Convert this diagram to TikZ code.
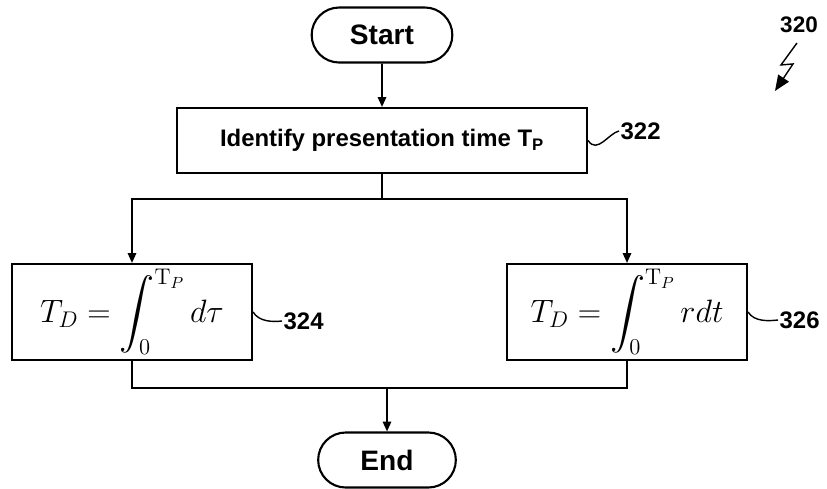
\documentclass[tikz,border=0pt]{standalone}
\usepackage{fix-cm}
\usepackage{amsmath}
\usepackage[no-math]{fontspec}
\setmainfont{Liberation Sans}
\usetikzlibrary{shapes.misc, arrows.meta}
\newcommand{\lStart}{Start}
\newcommand{\lEnd}{End}
\newcommand{\lIdentify}{Identify presentation time T\textsubscript{P}}
\newcommand{\intDelay}{$\displaystyle T_D = \int_0^{\mathrm{T}_P} d\tau$}
\newcommand{\intRate}{$\displaystyle T_D = \int_0^{\mathrm{T}_P} r dt$}
\newcommand{\formulaBoxes}{%
    324/132/{\intDelay}/282/321,
    326/627/{\intRate}/778/320%
}

\begin{document}
\begin{tikzpicture} [
        x=0.025cm, y=-0.025cm,
        terminal/.style={draw, rounded rectangle, line width=1.5pt, minimum width=3.75cm, minimum height=1.375cm, font=\fontsize{20}{24}\selectfont\bfseries},
        process/.style={draw, rectangle, line width=1.5pt, minimum height=1.625cm, font=\fontsize{17}{20}\selectfont\bfseries},
        formula/.style={draw, rectangle, line width=1.5pt, minimum width=6cm, minimum height=2.4cm, font=\fontsize{23}{27}\selectfont},
        ref/.style={font=\fontsize{17}{20}\selectfont\bfseries, anchor=west, inner sep=1pt},
        leader/.style={line width=1pt},
        flow/.style={line width=1.2pt, -{Triangle[length=7pt, width=6pt]}},
        line/.style={line width=1.2pt},
    ]
    \useasboundingbox (0,0) rectangle (827,488);

    \draw (382,35) node[terminal] (box start) {\lStart};
    \draw (382,140.5) node[process, minimum width=10.25cm] (box 322) {\lIdentify};
    \draw (619,131) node[ref] (ref 322) {322};
    \draw (box 322.east) .. controls +(9,14) and +(-10,2) .. (ref 322.west) [leader];

    \foreach \num/\xpos/\formula/\lx/\ly in \formulaBoxes {
        \draw (\xpos,312) node[formula] (box \num) {\formula};
        \draw (\lx,\ly) node[ref] (ref \num) {\num};
        \draw[leader] (box \num.east) .. controls +(6,10) and +(-9,1) .. (ref \num.west);
    }

    \draw (387,460) node[terminal, minimum width=3.675cm] (box end) {\lEnd};

    % connectors
    \draw[flow] (box start) -- (box 322);
    \draw[line] (box 322.south) -- ++(0,25) coordinate (split);
    \draw[flow] (split) -| (box 324.north);
    \draw[flow] (split) -| (box 326.north);
    \coordinate (merge) at (387,388);
    \draw[line] (box 324.south) |- (merge) -| (box 326.south);
    \draw[flow] (merge) -- (box end);

    % figure number
    \draw (799,25) node[font=\fontsize{16}{19}\selectfont\bfseries] (ref 320) {320};
    \draw[line width=1pt, -{Triangle[length=11pt, width=9pt]}] (ref 320.south) ++(-2,5) -- ++(-16,22) -- ++(12,-1) -- ++(-18,27);
\end{tikzpicture}
\end{document}
